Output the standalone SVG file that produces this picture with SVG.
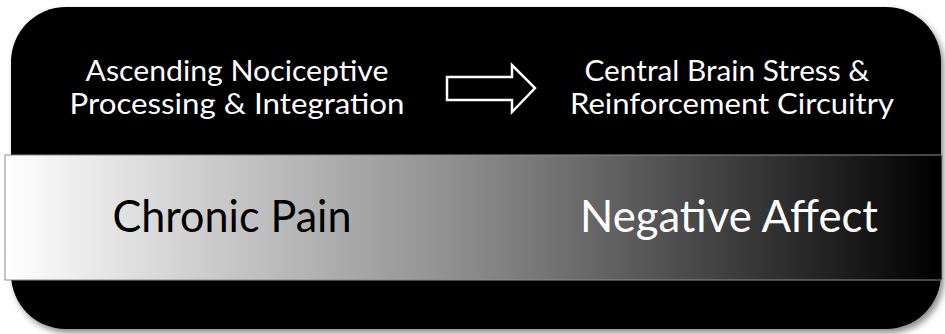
<svg xmlns="http://www.w3.org/2000/svg" width="945" height="334" viewBox="0 0 945 334">
  <style>
    .top { font-family: Lato, "Open Sans", "Liberation Sans", sans-serif; font-size: 28px; fill: #ffffff; text-anchor: middle; }
    .big { font-family: Lato, "Open Sans", "Liberation Sans", sans-serif; font-size: 44px; text-anchor: middle; }
  </style>
  <defs>
    <linearGradient id="band" x1="6" y1="0" x2="940" y2="0" gradientUnits="userSpaceOnUse">
      <stop offset="0" stop-color="#ffffff"/>
      <stop offset="0.5" stop-color="#8a8a8a"/>
      <stop offset="1" stop-color="#000000"/>
    </linearGradient>
    <filter id="shadow" x="-5%" y="-5%" width="112%" height="115%">
      <feDropShadow dx="3" dy="4" stdDeviation="3" flood-color="#000" flood-opacity="0.45"/>
    </filter>
  </defs>
  <rect width="945" height="334" fill="#ffffff"/>

  <!-- panel: black rounded slab with the gradient band across it -->
  <g id="panel">
    <rect x="11" y="7" width="930" height="322" rx="55" ry="55" fill="#000000" filter="url(#shadow)"/>
    <rect x="5" y="155" width="937" height="125" fill="url(#band)" stroke="#8c8c8c" stroke-width="1"/>
  </g>

  <g id="ascending">
    <text class="top" x="237" y="81" textLength="303" lengthAdjust="spacingAndGlyphs">Ascending Nociceptive</text>
    <text class="top" x="237" y="114" textLength="335" lengthAdjust="spacingAndGlyphs">Processing &amp; Integration</text>
  </g>

  <g id="central">
    <text class="top" x="727" y="81" textLength="285" lengthAdjust="spacingAndGlyphs">Central Brain Stress &amp;</text>
    <text class="top" x="732" y="114" textLength="324" lengthAdjust="spacingAndGlyphs">Reinforcement Circuitry</text>
  </g>

  <g id="chronic-pain">
    <text class="big" x="232" y="232" fill="#000000" textLength="239" lengthAdjust="spacingAndGlyphs">Chronic Pain</text>
  </g>

  <g id="negative-affect">
    <text class="big" x="729" y="232" fill="#ffffff" textLength="298" lengthAdjust="spacingAndGlyphs">Negative Affect</text>
  </g>

  <!-- connector: hollow block arrow -->
  <g id="connectors">
    <path d="M447,77 H512 V65 L535,88 L512,112 V100 H447 Z" fill="#000000" stroke="#ffffff" stroke-width="2.5" stroke-linejoin="miter"/>
  </g>
</svg>
